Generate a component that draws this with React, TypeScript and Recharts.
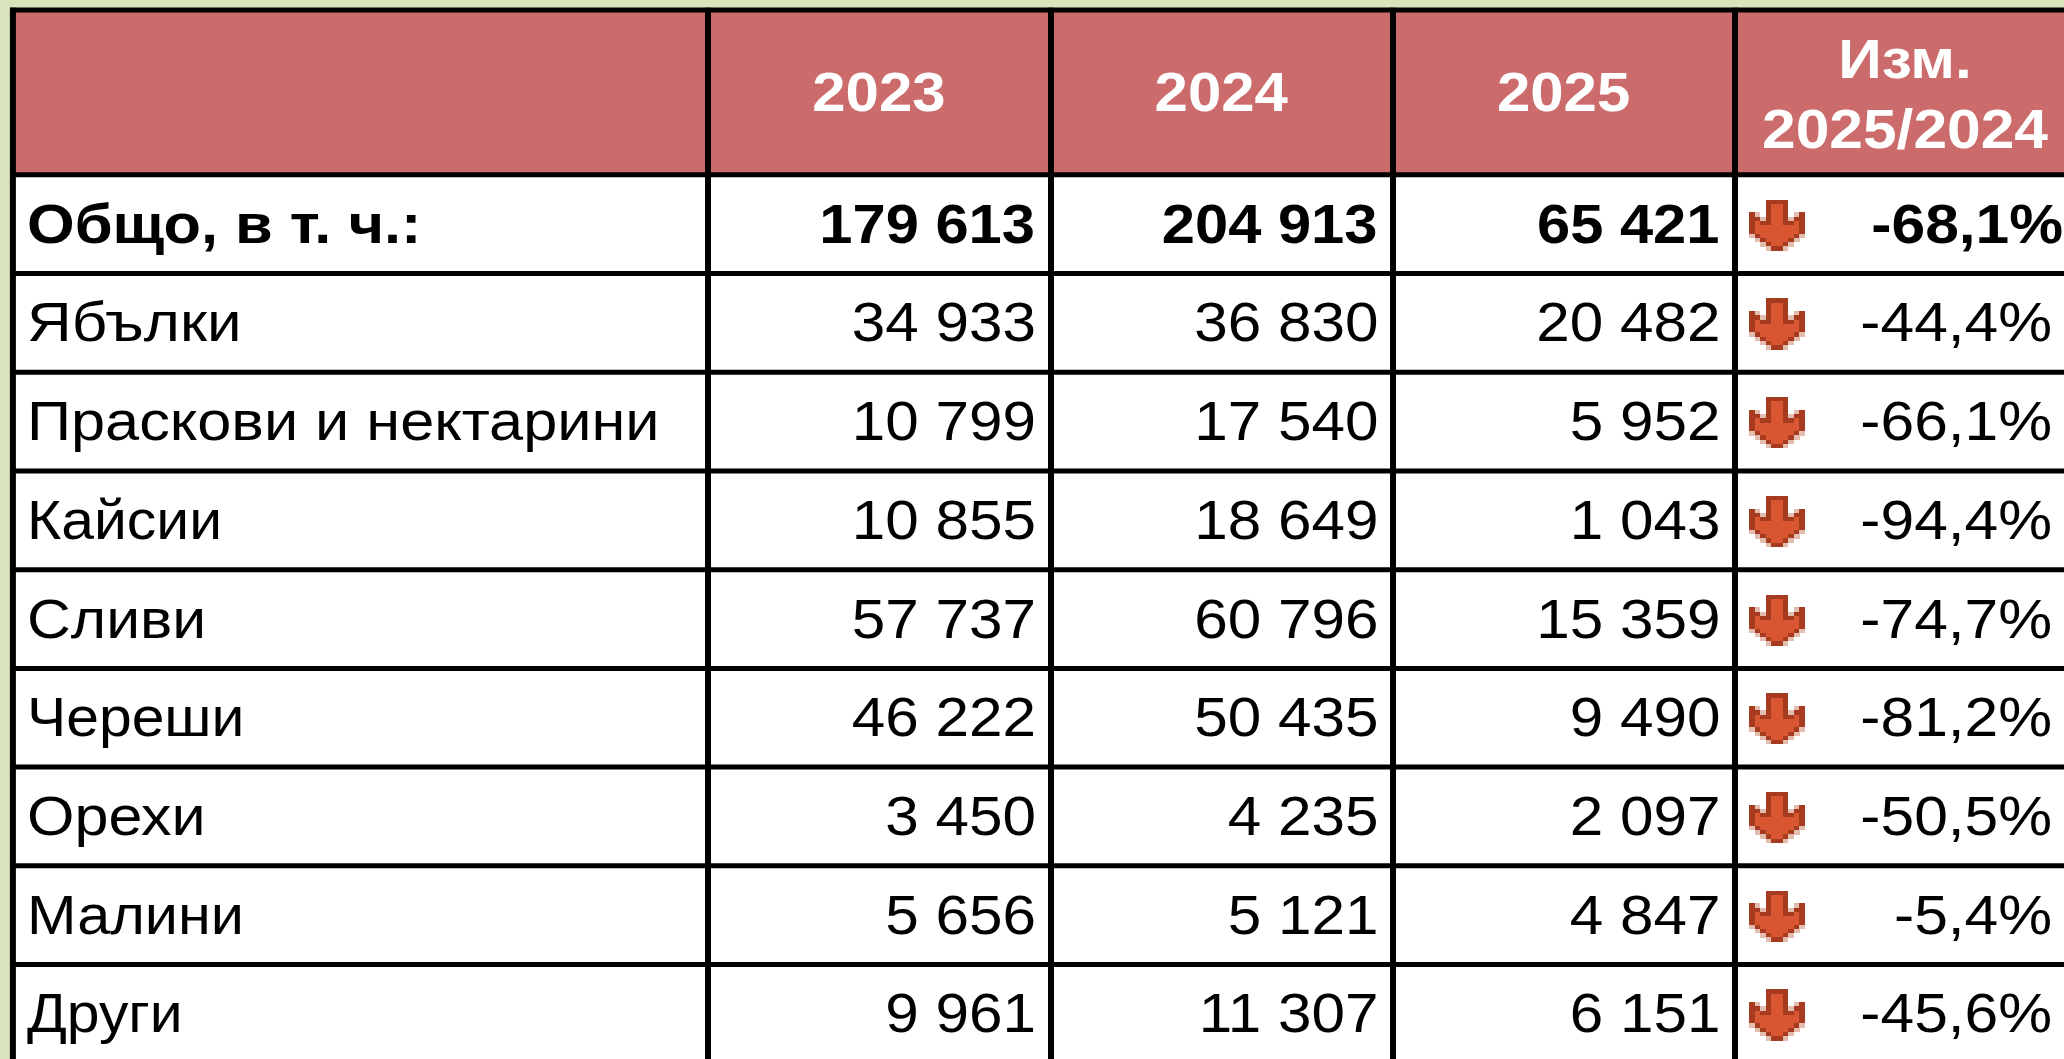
import React from "react";
import { ComposedChart, Scatter, XAxis, YAxis, ReferenceArea, ReferenceLine } from "recharts";

const rowNames = ["Общо, в т. ч.:", "Ябълки", "Праскови и нектарини", "Кайсии", "Сливи", "Череши", "Орехи", "Малини", "Други"];
const values2023 = [179613, 34933, 10799, 10855, 57737, 46222, 3450, 5656, 9961];
const values2024 = [204913, 36830, 17540, 18649, 60796, 50435, 4235, 5121, 11307];
const values2025 = [65421, 20482, 5952, 1043, 15359, 9490, 2097, 4847, 6151];
const changes = [-68.1, -44.4, -66.1, -94.4, -74.7, -81.2, -50.5, -5.4, -45.6];
const yearHeaders = ["2023", "2024", "2025"];
const changeHeader = ["Изм.", "2025/2024"];

const W = 2064;
const H = 1059;
const PX_PER_COL = 342.3;
const PX_PER_ROW = 98.72;
// axis units: column n (1..4) is centred on n, row n (0..8) is centred on n
const X_DOMAIN: [number, number] = [0.5 - 707.8 / PX_PER_COL, 0.5 + (W - 707.8) / PX_PER_COL];
const Y_DOMAIN: [number, number] = [-0.5 - 174.3 / PX_PER_ROW, -0.5 + (H - 174.3) / PX_PER_ROW];
const xAt = (px: number) => X_DOMAIN[0] + px / PX_PER_COL;
const yAt = (px: number) => Y_DOMAIN[0] + px / PX_PER_ROW;

const FONT = "'Liberation Sans', Arial, sans-serif";
const fmt = (n: number) => String(n).replace(/\B(?=(\d{3})+$)/g, " ");
const fmtPct = (n: number) => n.toFixed(1).replace(".", ",") + "%";

// horizontal stretch of each row label (the source text is hinted wider than the font)
const LABEL_STRETCH = [1.115, 1.126, 1.114, 1.07, 1.103, 1.07, 1.11, 1.08, 1.07];

const ARROW = [
  "...DDDD...",
  "...DOOD...",
  "...DOOD...",
  "DP.DOOD.PD",
  "DDPDOODPDD",
  "DODDOODDOD",
  "DOOOOOOOOD",
  "DOOOOOOOOD",
  "PDOOOOOODP",
  ".PDOOOODP.",
  "..PDOODP..",
  "...PDDP...",
];
const ARROW_COLORS: Record<string, string> = { D: "#a63b1f", O: "#d95632", P: "#e4bdb1" };

const TextCell = (p: any) => {
  const { cx, cy, payload } = p;
  const lines: string[] = payload.lines;
  return (
    <g>
      {lines.map((t, i) => (
        <text
          key={i}
          transform={`translate(${cx},${cy + 19 + (i - (lines.length - 1) / 2) * 70}) scale(${payload.sx},1)`}
          textAnchor={payload.anchor}
          fontFamily={FONT}
          fontSize={55}
          fontWeight={payload.bold ? 700 : 400}
          fill={payload.color}
        >
          {t}
        </text>
      ))}
    </g>
  );
};

const ArrowCell = (p: any) => {
  const { cx, cy } = p;
  const cw = 5.6;
  const ch = 4.25;
  return (
    <g shapeRendering="crispEdges">
      {ARROW.flatMap((row, r) =>
        row.split("").map((c, k) =>
          c === "." ? null : (
            <rect
              key={`${r}-${k}`}
              x={cx - 28 + k * cw}
              y={cy - 24 + r * ch}
              width={cw + 0.2}
              height={ch + 0.2}
              fill={ARROW_COLORS[c]}
            />
          )
        )
      )}
    </g>
  );
};

const black = "#000000";
const labelCells = rowNames.map((n, i) => ({ x: xAt(27), y: i, lines: [n], anchor: "start", bold: i === 0, color: black, sx: LABEL_STRETCH[i] }));
const col = (vals: number[], px: number) =>
  vals.map((v, i) => ({ x: xAt(i === 0 ? px : px + 1), y: i, lines: [fmt(v)], anchor: "end", bold: i === 0, color: black, sx: i === 0 ? 1.085 : 1.095 }));
const col2023 = col(values2023, 1035);
const col2024 = col(values2024, 1377.5);
const col2025 = col(values2025, 1719.5);
const changeCells = changes.map((v, i) => ({
  x: xAt(i === 0 ? 2063 : 2052),
  y: i,
  lines: [fmtPct(v)],
  anchor: "end",
  bold: i === 0,
  color: black,
  sx: 1.1,
}));
const arrowCells = changes.map((_, i) => ({ x: xAt(1777), y: i }));
const headerCells = [
  ...yearHeaders.map((h, i) => ({ x: i + 1, y: yAt(92), lines: [h], anchor: "middle", bold: true, color: "#ffffff", sx: 1.09 })),
  { x: xAt(1905), y: yAt(94), lines: changeHeader, anchor: "middle", bold: true, color: "#ffffff", sx: 1.1 },
];

const hLines = [10, ...Array.from({ length: 9 }, (_, i) => 174.8 + i * PX_PER_ROW)].map(yAt);
const vLines = [12.9, 708, 1051, 1393, 1735].map(xAt);
const LEFT_EDGE = xAt(10);
const TOP_EDGE = yAt(7.7);

export default function App() {
  return (
    <div style={{ width: W, height: H, overflow: "hidden", background: "#d8e4bc", position: "absolute", left: 0, top: 0 }}>
      <style>{`html,body{margin:0;overflow:hidden}`}</style>
      <ComposedChart width={W} height={H} margin={{ top: 0, right: 0, bottom: 0, left: 0 }} data={[]}>
        <XAxis type="number" dataKey="x" domain={X_DOMAIN} hide allowDataOverflow />
        <YAxis type="number" dataKey="y" domain={Y_DOMAIN} reversed hide allowDataOverflow />
        <ReferenceArea x1={vLines[0]} x2={X_DOMAIN[1]} y1={hLines[0]} y2={Y_DOMAIN[1]} fill="#ffffff" fillOpacity={1} stroke="none" />
        <ReferenceArea x1={vLines[0]} x2={X_DOMAIN[1]} y1={hLines[0]} y2={hLines[1]} fill="#cc6b6b" fillOpacity={1} stroke="none" />
        {hLines.map((y, i) => (
          <ReferenceLine key={`h${i}`} segment={[{ x: LEFT_EDGE, y }, { x: X_DOMAIN[1], y }]} stroke={black} strokeWidth={5} />
        ))}
        {vLines.map((x, i) => (
          <ReferenceLine key={`v${i}`} segment={[{ x, y: TOP_EDGE }, { x, y: Y_DOMAIN[1] }]} stroke={black} strokeWidth={6} />
        ))}
        <Scatter data={labelCells} shape={TextCell} isAnimationActive={false} />
        <Scatter data={col2023} shape={TextCell} isAnimationActive={false} />
        <Scatter data={col2024} shape={TextCell} isAnimationActive={false} />
        <Scatter data={col2025} shape={TextCell} isAnimationActive={false} />
        <Scatter data={changeCells} shape={TextCell} isAnimationActive={false} />
        <Scatter data={arrowCells} shape={ArrowCell} isAnimationActive={false} />
        <Scatter data={headerCells} shape={TextCell} isAnimationActive={false} />
      </ComposedChart>
    </div>
  );
}
